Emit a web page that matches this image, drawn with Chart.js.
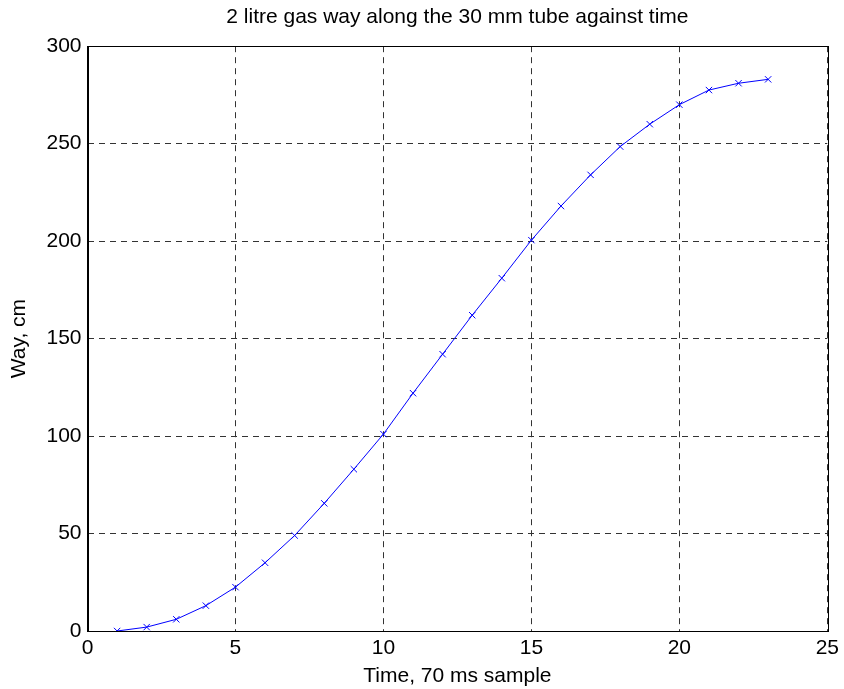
<!DOCTYPE html>
<html>
<head>
<meta charset="utf-8">
<script src="https://cdn.jsdelivr.net/npm/chart.js@4.4.1/dist/chart.umd.min.js"></script>
<style>
  html, body { margin: 0; padding: 0; background: #fff; }
  #wrap { width: 844px; height: 689px; }
</style>
</head>
<body>
<div id="wrap"><canvas id="wayChart" width="844" height="689"></canvas></div>
<script>
// sample numbers (70 ms each) and measured way in cm
const samples = [1, 2, 3, 4, 5, 6, 7, 8, 9, 10, 11, 12, 13, 14, 15, 16, 17, 18, 19, 20, 21, 22, 23];
const wayCm = [0, 2, 6, 13, 22.5, 35, 49, 65.5, 83, 101, 122, 142, 162, 181, 200.5, 218, 234, 248.5, 260, 270, 277.5, 281, 283];
const xTicks = [0, 5, 10, 15, 20, 25];
const yTicks = [0, 50, 100, 150, 200, 250, 300];

const FONT = "'Liberation Sans', Arial, sans-serif";

/* box round the plot area, like the matlab axes */
const frame = {
    id: "frame",
    afterDatasetsDraw(chart) {
        const { ctx, chartArea: a } = chart;
        ctx.save();
        ctx.strokeStyle = "#000";
        ctx.lineWidth = 1;
        ctx.strokeRect(Math.round(a.left) + 0.5, Math.round(a.top) + 0.5,
            Math.round(a.right - a.left), Math.round(a.bottom - a.top));
        ctx.restore();
    }
};

const gridStyle = {
    color: "#333",
    lineWidth: 1,
    drawTicks: false
};

new Chart(document.getElementById("wayChart"), {
    type: "scatter",
    data: {
        datasets: [{
            data: samples.map((s, i) => ({ x: s, y: wayCm[i] })),
            showLine: true,
            borderColor: "#0000ff",
            backgroundColor: "#0000ff",
            borderWidth: 1,
            pointStyle: "crossRot",
            pointRadius: 4.5,
            pointBorderWidth: 1,
            pointHoverRadius: 4.5
        }]
    },
    options: {
        responsive: false,
        animation: false,
        layout: { padding: { left: 0, right: 16, top: 0, bottom: 0 } },
        plugins: {
            legend: { display: false },
            tooltip: { enabled: false },
            title: {
                display: true,
                fullSize: false,
                text: "2 litre gas way along the 30 mm tube against time",
                color: "#000",
                font: { family: FONT, size: 21, weight: "normal" },
                padding: { top: 5, bottom: 16 }
            }
        },
        scales: {
            x: {
                type: "linear",
                min: 0,
                max: 25,
                afterBuildTicks: (axis) => { axis.ticks = xTicks.map(v => ({ value: v })); },
                afterFit: (axis) => { axis.height = 58; },
                grid: gridStyle,
                border: { display: true, color: "#000", dash: [6, 5] },
                ticks: {
                    color: "#000",
                    padding: 5,
                    maxRotation: 0,
                    font: { family: FONT, size: 21 }
                },
                title: {
                    display: true,
                    text: "Time, 70 ms sample",
                    color: "#000",
                    font: { family: FONT, size: 21 },
                    padding: { top: 2, bottom: 0 }
                }
            },
            y: {
                type: "linear",
                min: 0,
                max: 300,
                afterBuildTicks: (axis) => { axis.ticks = yTicks.map(v => ({ value: v })); },
                afterFit: (axis) => { axis.width = 87.5; },
                grid: gridStyle,
                border: { display: true, color: "#000", dash: [6, 5] },
                ticks: {
                    color: "#000",
                    padding: 6,
                    font: { family: FONT, size: 21 }
                },
                title: {
                    display: true,
                    text: "Way, cm",
                    color: "#000",
                    font: { family: FONT, size: 21 },
                    padding: { top: 7, bottom: 0 }
                }
            }
        }
    },
    plugins: [frame]
});
</script>
</body>
</html>
